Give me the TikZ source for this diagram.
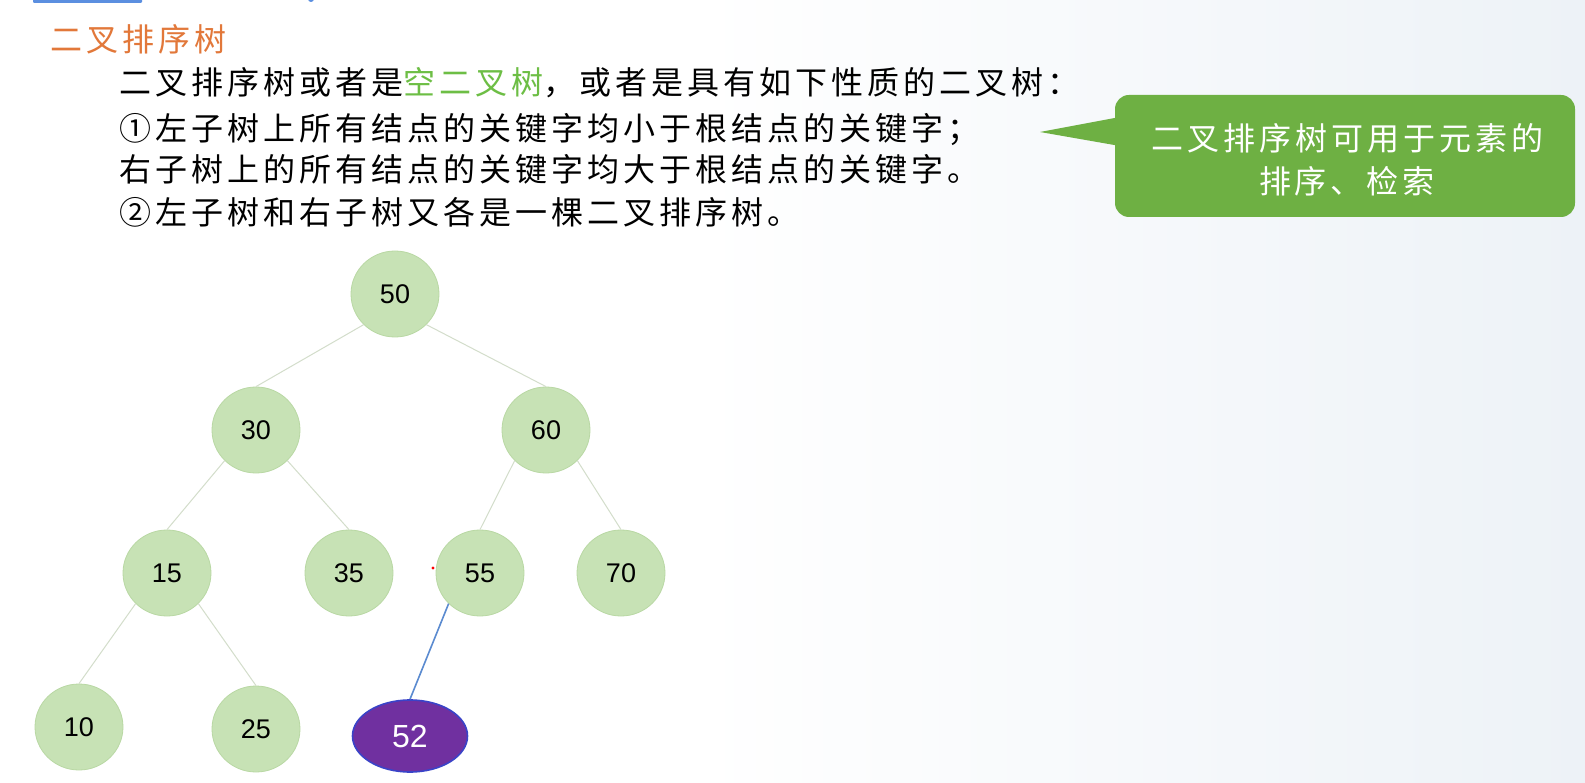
\documentclass[tikz,border=0pt]{standalone}
\usepackage{fontspec}
\setmainfont{Liberation Sans}
\newfontfamily\cjk[LetterSpace=12.5]{Noto Sans CJK SC}
\usetikzlibrary{shapes.geometric}
\definecolor{bgblue}{HTML}{EDF2F7}
\definecolor{topblue}{HTML}{5B8FE0}
\definecolor{titleorange}{HTML}{E2783A}
\definecolor{keygreen}{HTML}{6DBE45}
\definecolor{calloutgreen}{HTML}{6EB043}
\definecolor{nodegreen}{HTML}{C7E2B5}
\definecolor{nodeborder}{HTML}{B9D8A4}
\definecolor{edgegray}{HTML}{D3DDCB}
\definecolor{newpurple}{HTML}{7030A0}
\definecolor{newborder}{HTML}{3A43C8}
\definecolor{newedge}{HTML}{5B8BD0}
\tikzset{
  treenode/.style={ellipse, minimum width=88pt, minimum height=86pt, inner sep=0pt,
    fill=nodegreen, draw=nodeborder, line width=0.8pt, text=black,
    font=\fontsize{27}{27}\selectfont},
  newnode/.style={ellipse, minimum width=115pt, minimum height=72pt, inner sep=0pt,
    fill=newpurple, draw=newborder, line width=1.6pt, text=white,
    font=\fontsize{32}{32}\selectfont},
  treeedge/.style={draw=edgegray, line width=1pt},
  newtreeedge/.style={draw=newedge, line width=1.6pt},
  cjktext/.style={anchor=base west, inner sep=0pt, text=black,
    font=\cjk\fontsize{32}{32}\selectfont},
  calloutbox/.style={rounded corners=14pt, fill=calloutgreen, minimum width=460pt,
    minimum height=122pt, inner sep=0pt},
  callouttext/.style={text=white, align=center, inner sep=0pt,
    font=\cjk\fontsize{32}{43}\selectfont}
}
\begin{document}
\begin{tikzpicture}[x=1pt,y=-1pt]
\useasboundingbox (0,0) rectangle (1585,783);
\fill[white] (0,0) rectangle (1585,783);
\shade[left color=white, right color=bgblue] (700,0) rectangle (1585,783);
% top artifacts
\fill[topblue, rounded corners=1pt] (33,-3) rectangle (142,3);
\fill[topblue] (311,-1) circle (3);
% title and text
\node[cjktext, text=titleorange] (title) at (50,52) {二叉排序树};
\node[cjktext] (line1) at (119,95) {二叉排序树或者是\textcolor{keygreen}{空二叉树}，或者是具有如下性质的二叉树：};
\node[cjktext] (line2) at (119,141) {①左子树上所有结点的关键字均小于根结点的关键字；};
\node[cjktext] (line3) at (119,182) {右子树上的所有结点的关键字均大于根结点的关键字。};
\node[cjktext] (line4) at (119,225) {②左子树和右子树又各是一棵二叉排序树。};
% callout
\node[calloutbox] (callout) at (1345,156) {};
\coordinate (tip) at (1040,132);
\fill[calloutgreen] (1120,117) -- (tip) -- (1120,146) -- cycle;
\node[callouttext] (callouttxt) at (1347,160) {二叉排序树可用于元素的\\排序、检索};
% tree
\node[treenode] (n50) at (395,294) {50};
\node[treenode] (n30) at (256,430) {30};
\node[treenode] (n60) at (546,430) {60};
\node[treenode] (n15) at (167,573) {15};
\node[treenode] (n35) at (349,573) {35};
\node[treenode] (n55) at (480,573) {55};
\node[treenode] (n70) at (621,573) {70};
\node[treenode] (n10) at (79,727) {10};
\node[treenode] (n25) at (256,729) {25};
\node[newnode] (n52) at (410,736) {52};
\draw[treeedge] (n50.south west) -- (n30.north);
\draw[treeedge] (n50.south east) -- (n60.north);
\draw[treeedge] (n30.south west) -- (n15.north);
\draw[treeedge] (n30.south east) -- (n35.north);
\draw[treeedge] (n60.south west) -- (n55.north);
\draw[treeedge] (n60.south east) -- (n70.north);
\draw[treeedge] (n15.south west) -- (n10.north);
\draw[treeedge] (n15.south east) -- (n25.north);
\draw[newtreeedge] (n55.south west) -- (n52.north);
% red dot
\fill[red] (433,568) circle (1.6);
\end{tikzpicture}
\end{document}
